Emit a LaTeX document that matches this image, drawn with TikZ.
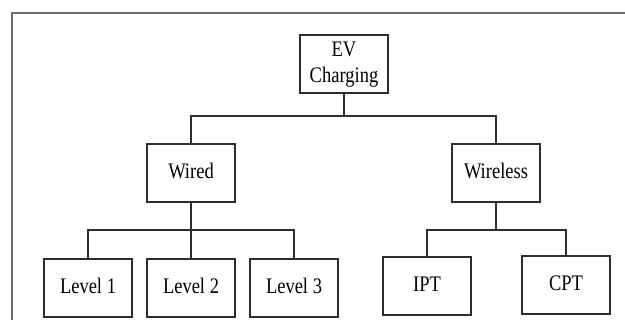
\documentclass[tikz,border=0pt]{standalone}
\usepackage{fontspec}
\setmainfont{Liberation Serif}
\usepackage{graphicx}
\usetikzlibrary{positioning}
\definecolor{framegray}{RGB}{110,110,110}
\definecolor{linegray}{RGB}{45,45,45}
\newcommand{\boxtext}[1]{\scalebox{1}[1.2]{\begin{tabular}{@{}c@{}}#1\end{tabular}}}

\begin{document}
\begin{tikzpicture}[
    x=1pt, y=-1pt,
    cat/.style={draw=linegray, line width=1.8pt, minimum width=88pt, minimum height=58pt, inner sep=0pt, font=\fontsize{18.5}{22}\selectfont},
    link/.style={draw=linegray, line width=1.8pt}
]
\useasboundingbox (0,0) rectangle (625,320);
% Frame
\draw[framegray, line width=1.6pt] (12,325) -- (12,13) -- (630,13);

% Root
\node[cat] (ev) at (344,64) {\boxtext{EV\\Charging}};

% Second level
\node[cat] (wired) at (191,173) {\boxtext{Wired}};
\node[cat] (wireless) at (496,173) {\boxtext{Wireless}};

% Leaves
\node[cat] (lvl1) at (88,288) {\boxtext{Level 1}};
\node[cat] (lvl2) at (191,288) {\boxtext{Level 2}};
\node[cat] (lvl3) at (294,288) {\boxtext{Level 3}};
\node[cat] (ipt) at (427,286) {\boxtext{IPT}};
\node[cat] (cpt) at (566,285) {\boxtext{CPT}};

% Junctions
\coordinate (topbar) at (344,116);
\coordinate (wiredbar) at (191,230);
\coordinate (wlbar) at (496,230);

% Connectors
\draw[link] (ev.south) -- (topbar);
\draw[link] (wired.north) |- (topbar) -| (wireless.north);
\draw[link] (wired.south) -- (lvl2.north);
\draw[link] (lvl1.north) |- (wiredbar) -| (lvl3.north);
\draw[link] (wireless.south) -- (wlbar);
\draw[link] (ipt.north) |- (wlbar) -| (cpt.north);

\end{tikzpicture}
\end{document}
